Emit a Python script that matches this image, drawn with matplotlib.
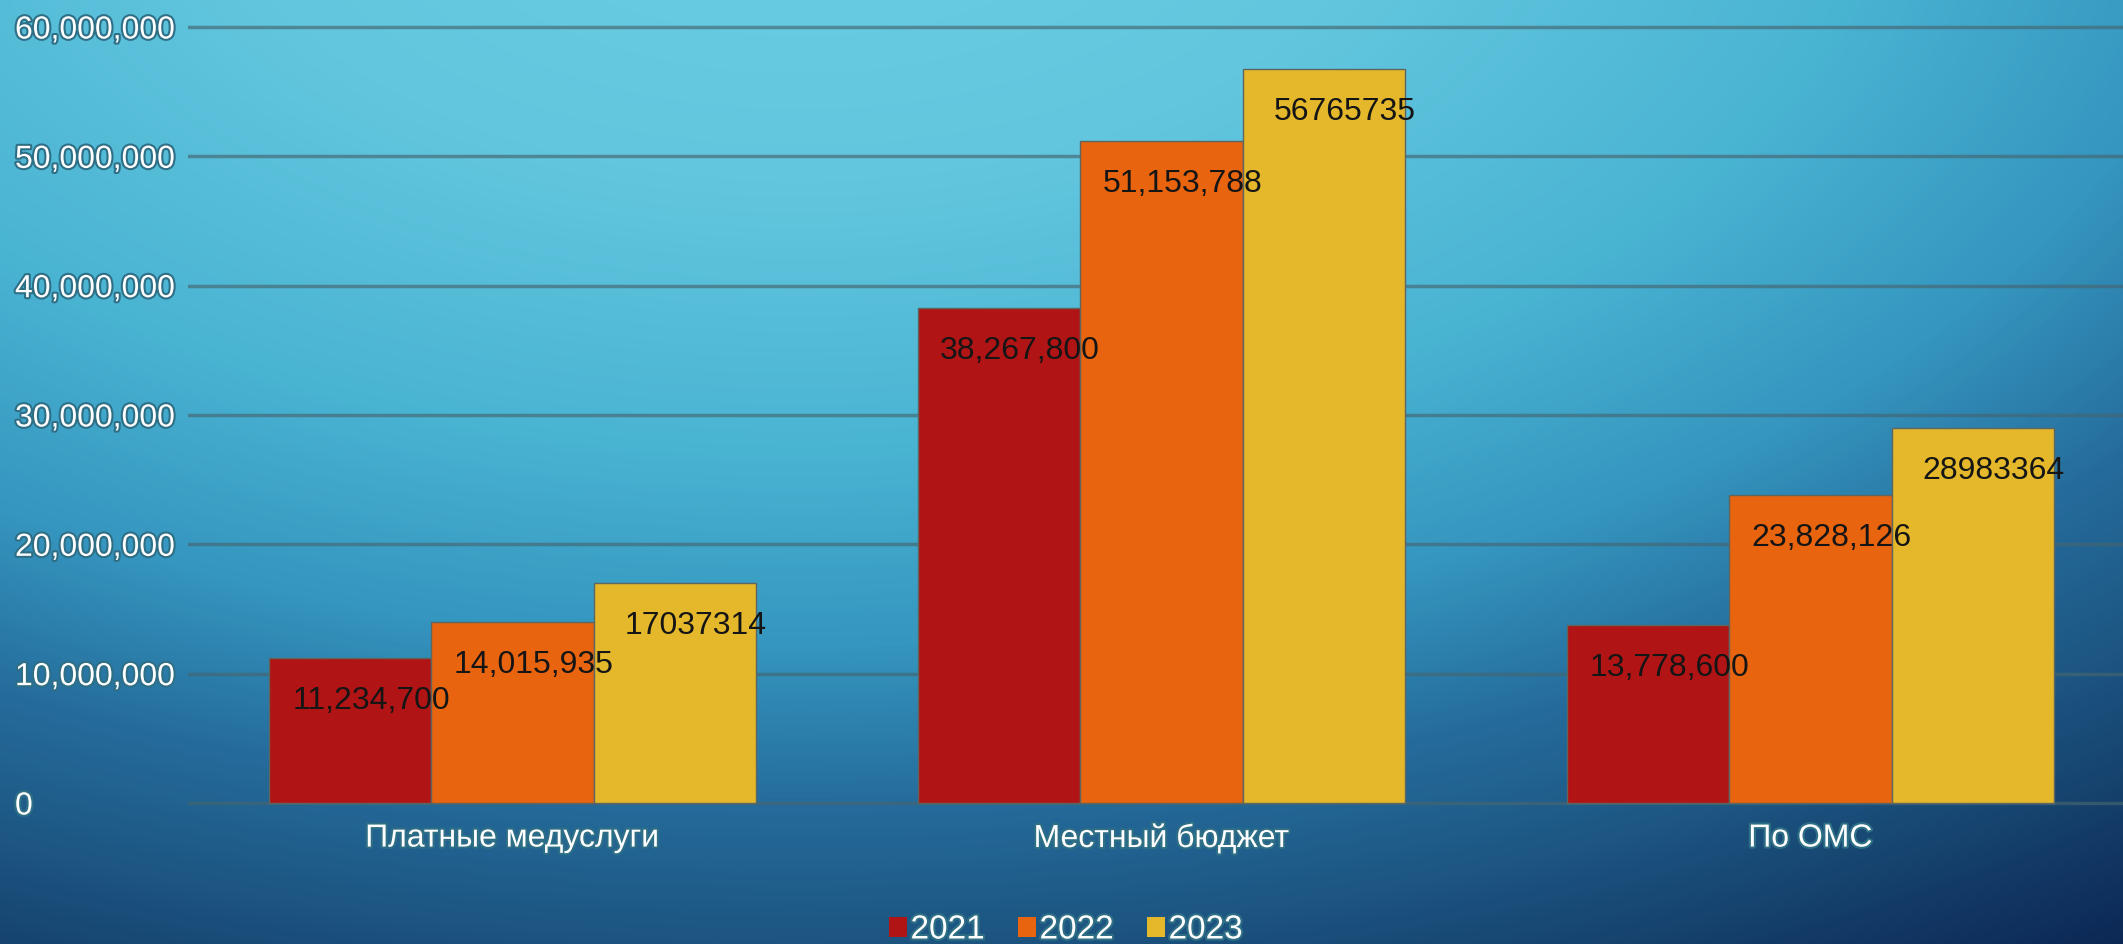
import numpy as np
import matplotlib
matplotlib.use("Agg")
import matplotlib.pyplot as plt
import matplotlib.patheffects as pe
from matplotlib.colors import LinearSegmentedColormap
from matplotlib.patches import Patch
from matplotlib.ticker import FuncFormatter

categories = ["Платные медуслуги", "Местный бюджет", "По ОМС"]
years = ["2021", "2022", "2023"]
values_2021 = [11234700, 38267800, 13778600]
values_2022 = [14015935, 51153788, 23828126]
values_2023 = [17037314, 56765735, 28983364]
# the 2023 labels are shown without thousands separators in the original
label_formats = ["{:,}", "{:,}", "{}"]
colors = ["#b11414", "#e8640f", "#e4b82a"]

plt.rcParams["font.family"] = ["Liberation Sans", "DejaVu Sans"]

W, H = 2123, 944
fig = plt.figure(figsize=(W / 100, H / 100), dpi=100)

# background: light cyan glow at the top, deep navy towards bottom right
bg = fig.add_axes([0, 0, 1, 1], zorder=-10)
yy, xx = np.mgrid[0:H, 0:W]
t = np.sqrt(((xx - 800) / 1900.0) ** 2 + ((yy + 150) / 1060.0) ** 2) / 1.25
cmap = LinearSegmentedColormap.from_list("bg", [
    (0.0, "#6bcfe3"), (0.25, "#62c6de"), (0.45, "#4ab4d3"),
    (0.6, "#3596bf"), (0.72, "#256c9c"), (0.82, "#1d5682"), (1.0, "#0c2653")])
bg.imshow(np.clip(t, 0, 1), cmap=cmap, vmin=0, vmax=1, aspect="auto", interpolation="bilinear")
bg.axis("off")

# main axes, placed in pixels to match the slide
px_per_m = (803 - 27) / 60.0
y_lo, y_hi = -0.3, 61.0
bottom_px = 803 + abs(y_lo) * px_per_m
top_px = 803 - y_hi * px_per_m
left_px = 188
ax = fig.add_axes([left_px / W, 1 - bottom_px / H, 1 - left_px / W, (bottom_px - top_px) / H])
ax.patch.set_alpha(0)
ax.set_ylim(y_lo * 1e6, y_hi * 1e6)
ax.set_xlim(-0.5, -0.5 + (W - left_px) / 649.0)

x = np.arange(len(categories))
width = 0.25
series = [values_2021, values_2022, values_2023]
for i, (vals, col, fmt) in enumerate(zip(series, colors, label_formats)):
    pos = x + (i - 1) * width
    ax.bar(pos, vals, width, color=col, edgecolor="#5d6660", linewidth=1.0, zorder=3)
    for xp, v in zip(pos, vals):
        ax.annotate(fmt.format(v), xy=(xp, v), xytext=(15, -31), textcoords="offset points",
                    ha="center", va="center", fontsize=23, color="#151515", zorder=4)

ax.set_yticks(np.arange(0, 60000001, 10000000))
ax.yaxis.set_major_formatter(FuncFormatter(lambda v, p: f"{int(v):,}"))
ax.yaxis.grid(True, color="#456670", alpha=0.65, linewidth=2.5)
ax.set_axisbelow(True)
for s in ax.spines.values():
    s.set_visible(False)

glow = [pe.withStroke(linewidth=3, foreground="#2f6f86")]
ax.set_xticks(x)
ax.set_xticklabels(categories)
ax.tick_params(axis="x", length=0, pad=12, labelsize=23, labelcolor="white")
ax.tick_params(axis="y", length=0, pad=(left_px - 15) * 0.72, labelsize=23, labelcolor="white")
for lab in ax.get_yticklabels():
    lab.set_horizontalalignment("left")
    lab.set_path_effects(glow)
for lab in ax.get_xticklabels():
    lab.set_path_effects(glow)

handles = [Patch(facecolor=c, edgecolor="none") for c in colors]
leg = fig.legend(handles, years, loc="center", bbox_to_anchor=(0.502, 1 - 930 / H), ncol=3,
                 frameon=False, fontsize=24, handlelength=0.55, handleheight=0.55,
                 handletextpad=0.1, columnspacing=1.0, labelcolor="white")
for txt in leg.get_texts():
    txt.set_path_effects(glow)

fig.savefig("out.png", dpi=100)
